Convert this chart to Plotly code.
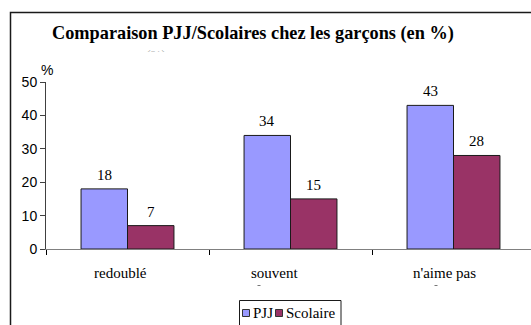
import plotly.graph_objects as go

# Data
categories = ["redoublé", "souvent", "n'aime pas"]
series_names = ["PJJ", "Scolaire"]
pjj_values = [18, 34, 43]
scolaire_values = [7, 15, 28]
series_values = [pjj_values, scolaire_values]
y_ticks = [0, 10, 20, 30, 40, 50]

colors = ["#9999FF", "#993366"]
serif = "Liberation Serif"
sans = "Liberation Sans"

W, H = 531, 325
# plot-area edges in pixels
X0, Y_TOP, Y_BOT = 46, 82, 249
cat_px = 163.0          # pixel width of one category slot
bargap = 0.43
bar_px = cat_px * (1 - bargap) / 2


def px_x(p):
    return p / W


def px_y(p):
    return 1 - p / H


fig = go.Figure()
for name, vals, col in zip(series_names, series_values, colors):
    fig.add_trace(go.Bar(
        x=categories, y=vals, name=name,
        marker=dict(color=col, line=dict(color="#1a1a1a", width=1)),
        showlegend=False,
    ))

x_max = -0.5 + (W - X0) / cat_px

# Faint, mostly hidden "(%)" under the title: only its top is visible
fig.add_trace(go.Scatter(
    x=[156], y=[H - 55.5], mode="text", text=["(%)"],
    textfont=dict(family=serif, size=13, color="#555555"),
    xaxis="x2", yaxis="y2", cliponaxis=True, showlegend=False,
    hoverinfo="skip",
))

fig.update_layout(
    template="none",
    width=W, height=H,
    margin=dict(l=0, r=0, t=0, b=0, pad=0),
    paper_bgcolor="white", plot_bgcolor="white",
    barmode="group", bargap=bargap, bargroupgap=0,
    showlegend=False,
    xaxis=dict(
        domain=[px_x(X0), 1], automargin=False,
        type="category", range=[-0.5, x_max],
        showline=True, linecolor="#808080", linewidth=1,
        ticks="outside", ticklen=5, tickcolor="black", tickson="boundaries",
        showticklabels=False, showgrid=False, zeroline=False,
    ),
    yaxis=dict(
        domain=[px_y(Y_BOT), px_y(Y_TOP)], automargin=False,
        range=[0, 50], tickvals=y_ticks,
        showline=True, linecolor="#404040", linewidth=1,
        ticks="outside", ticklen=5, tickcolor="#404040",
        tickfont=dict(family=sans, size=14, color="black"),
        showgrid=False, zeroline=False,
    ),
    xaxis2=dict(domain=[0, 1], range=[0, W], visible=False, anchor="y2",
                automargin=False),
    yaxis2=dict(domain=[px_y(51.5), px_y(40)], range=[H - 51.5, H - 40],
                visible=False, anchor="x2", automargin=False),
)

annotations = [
    dict(text="<b>Comparaison PJJ/Scolaires chez les garçons (en %)</b>",
         xref="paper", yref="paper", x=px_x(252.5), y=px_y(33.5),
         xanchor="center", yanchor="middle", showarrow=False,
         font=dict(family=serif, size=18.3, color="black")),
    dict(text="%", xref="paper", yref="paper", x=px_x(47), y=px_y(70),
         xanchor="center", yanchor="middle", showarrow=False,
         font=dict(family=sans, size=14, color="black")),
]

# Value labels above each bar
for k, vals in enumerate(series_values):
    dx = (k - 0.5) * bar_px
    for cat, v in zip(categories, vals):
        annotations.append(dict(
            text=str(v), x=cat, y=v, xref="x", yref="y",
            xshift=dx, yshift=14, xanchor="center", yanchor="middle",
            showarrow=False, font=dict(family=serif, size=15, color="black")))

# Category labels, slightly left of each slot centre
label_shift = [-7.5, -15.8, -9.5]
for cat, dx in zip(categories, label_shift):
    annotations.append(dict(
        text=cat, x=cat, xref="x", yref="paper", y=px_y(272.7),
        xshift=dx, xanchor="center", yanchor="middle", showarrow=False,
        font=dict(family=serif, size=15, color="black")))

shapes = [
    # outer chart border
    dict(type="rect", xref="paper", yref="paper",
         x0=px_x(10.5), x1=px_x(W + 20), y0=px_y(H + 20), y1=px_y(12.5),
         line=dict(color="#1a1a1a", width=1.5), fillcolor="rgba(0,0,0,0)",
         layer="above"),
]

# small clipped marks of a hidden second label line
for cx in [259, 436]:
    shapes.append(dict(type="line", xref="paper", yref="paper",
                       x0=px_x(cx - 1.5), x1=px_x(cx + 1.5),
                       y0=px_y(285.5), y1=px_y(285.5),
                       line=dict(color="#777777", width=1)))

# Legend box drawn by hand: swatches + names
leg_left, leg_right, leg_top, leg_mid = 239.5, 341, 300.5, 313
shapes.append(dict(type="rect", xref="paper", yref="paper",
                   x0=px_x(leg_left), x1=px_x(leg_right),
                   y0=px_y(H + 20), y1=px_y(leg_top),
                   line=dict(color="#1a1a1a", width=1), fillcolor="white"))
swatch_x = [242.5, 275.5]
text_x = [250.5, 283.5]
for name, col, sx, tx in zip(series_names, colors, swatch_x, text_x):
    shapes.append(dict(type="rect", xref="paper", yref="paper",
                       x0=px_x(sx), x1=px_x(sx + 7),
                       y0=px_y(leg_mid + 3.5), y1=px_y(leg_mid - 3.5),
                       line=dict(color="#333333", width=1), fillcolor=col))
    annotations.append(dict(
        text=name, xref="paper", yref="paper", x=px_x(tx), y=px_y(leg_mid),
        xanchor="left", yanchor="middle", showarrow=False,
        font=dict(family=serif, size=15, color="black")))

fig.update_layout(annotations=annotations, shapes=shapes)

fig.write_html("out.html")
